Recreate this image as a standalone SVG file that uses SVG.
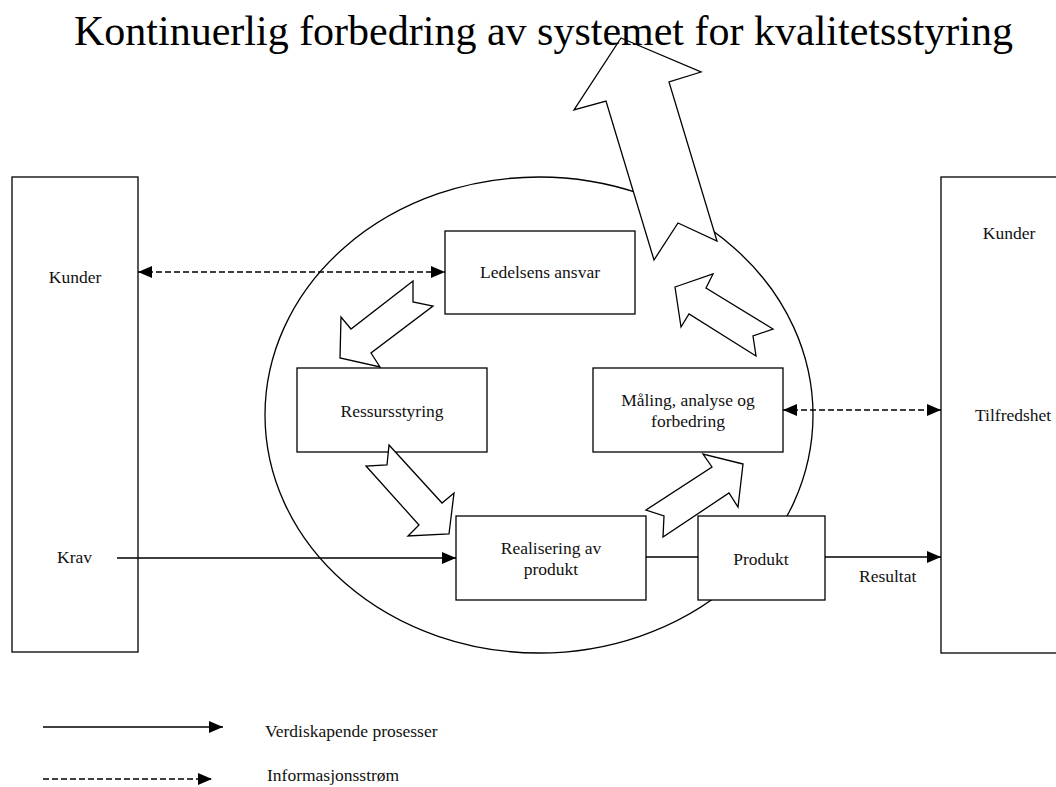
<svg xmlns="http://www.w3.org/2000/svg" width="1056" height="787" viewBox="0 0 1056 787">
  <style>
    .box { fill: #fff; stroke: #000; stroke-width: 1.3; }
    .blk { fill: #fff; stroke: #000; stroke-width: 1.3; stroke-linejoin: miter; }
    .lbl { font-family: "Liberation Serif", "Times New Roman", serif; font-size: 17.5px; fill: #111; }
    .mid { text-anchor: middle; }
    .flow { fill: none; stroke: #000; stroke-width: 1.3; }
    .info { fill: none; stroke: #000; stroke-width: 1.3; stroke-dasharray: 6 3; }
  </style>
  <defs>
    <marker id="head" viewBox="0 0 14 12" refX="14" refY="6" markerWidth="14" markerHeight="12" markerUnits="userSpaceOnUse" orient="auto-start-reverse">
      <path d="M0,0 L14,6 L0,12 Z" fill="#000"/>
    </marker>
  </defs>

  <!-- customer side boxes -->
  <g id="kunder-inn">
    <rect class="box" x="12" y="177" width="126" height="475"/>
    <text class="lbl mid" x="75" y="283">Kunder</text>
    <text class="lbl" x="57" y="563">Krav</text>
  </g>
  <g id="kunder-ut">
    <rect class="box" x="941" y="177" width="140" height="476"/>
    <text class="lbl mid" x="1009" y="239">Kunder</text>
    <text class="lbl" x="975" y="421">Tilfredshet</text>
  </g>

  <!-- quality management system -->
  <g id="system">
    <ellipse class="box" cx="539" cy="415" rx="274" ry="238"/>
  </g>

  <!-- continual improvement arrow -->
  <g id="forbedring-pil">
    <polygon class="blk" points="621,38 701,72 669,82 717,241 678,223 654,260 606,101 574,110"/>
  </g>

  <g id="ledelsens-ansvar">
    <rect class="box" x="445" y="231" width="190" height="83"/>
    <text class="lbl mid" x="540" y="278">Ledelsens ansvar</text>
  </g>
  <g id="ressursstyring">
    <rect class="box" x="297" y="368" width="190" height="84"/>
    <text class="lbl mid" x="392" y="417">Ressursstyring</text>
  </g>
  <g id="maaling">
    <rect class="box" x="593" y="368" width="190" height="84"/>
    <text class="lbl mid" x="688" y="406">Måling, analyse og</text>
    <text class="lbl mid" x="688" y="427">forbedring</text>
  </g>
  <g id="realisering">
    <rect class="box" x="456" y="516" width="190" height="84"/>
    <text class="lbl mid" x="551" y="554">Realisering av</text>
    <text class="lbl mid" x="551" y="575">produkt</text>
  </g>
  <g id="produkt">
    <rect class="box" x="698" y="516" width="127" height="84"/>
    <text class="lbl mid" x="761" y="565">Produkt</text>
  </g>

  <!-- cycle arrows between the processes -->
  <g id="syklus">
    <polygon class="blk" points="413,281 351,329 341,317 340,358 380,367 371,353 433,306 413,302"/>
    <polygon class="blk" points="389,445 442,503 454,493 449,534 408,536 419,525 366,466 387,465"/>
    <polygon class="blk" points="743,464 703,454 712,467 646,510 664,516 663,537 729,493 738,507"/>
    <polygon class="blk" points="675,287 713,274 706,288 773,329 753,336 756,356 689,314 681,327"/>
  </g>

  <!-- connectors -->
  <g id="connectors">
    <path class="info" d="M138,272 L445,272" marker-start="url(#head)" marker-end="url(#head)"/>
    <path class="info" d="M783,410 L941,410" marker-start="url(#head)" marker-end="url(#head)"/>
    <path class="flow" d="M117,558 L456,558" marker-end="url(#head)"/>
    <path class="flow" d="M646,557 L698,557"/>
    <path class="flow" d="M825,557 L941,557" marker-end="url(#head)"/>
    <text class="lbl" x="859" y="582">Resultat</text>
  </g>

  <!-- legend -->
  <g id="legend">
    <path class="flow" d="M43,727 L223,727" marker-end="url(#head)"/>
    <text class="lbl" x="265" y="737">Verdiskapende prosesser</text>
    <path class="info" d="M43,779 L212,779" marker-end="url(#head)"/>
    <text class="lbl" x="267" y="781">Informasjonsstrøm</text>
  </g>

  <g id="tittel">
    <text x="74" y="45" style="font-family: 'Liberation Serif', 'Times New Roman', serif; font-size: 42px; fill: #000;">Kontinuerlig forbedring av systemet for kvalitetsstyring</text>
  </g>
</svg>
